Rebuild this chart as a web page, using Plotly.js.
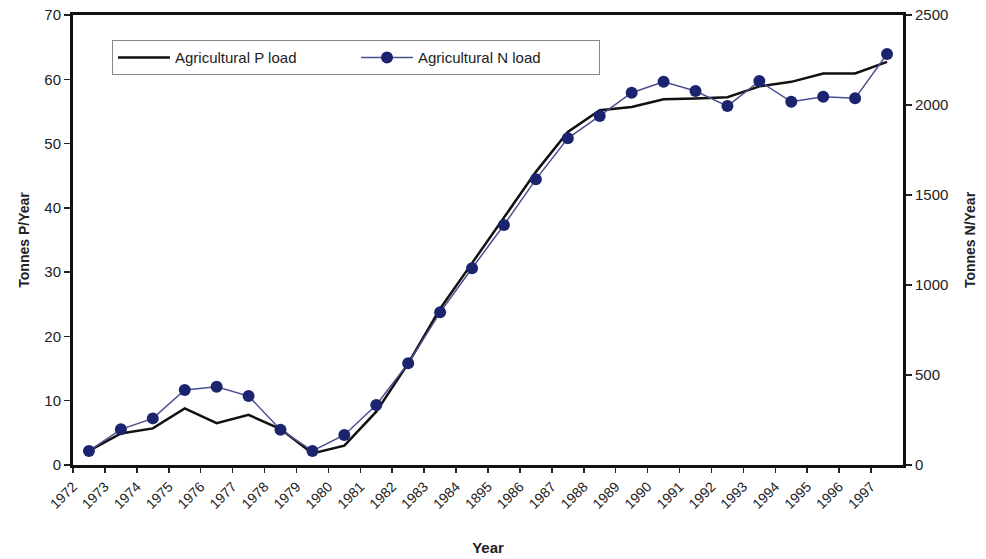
<!DOCTYPE html>
<html>
<head>
<meta charset="utf-8">
<script src="https://cdn.plot.ly/plotly-3.0.1.min.js"></script>
<style>html,body{margin:0;padding:0;background:#fff;}#chart{width:986px;height:559px;}</style>
</head>
<body>
<div id="chart"></div>
<script>
const years = [1972,1973,1974,1975,1976,1977,1978,1979,1980,1981,1982,1983,1984,1985,1986,1987,1988,1989,1990,1991,1992,1993,1994,1995,1996,1997];
const tickLabels = ["1972","1973","1974","1975","1976","1977","1978","1979","1980","1981","1982","1983","1984","1895","1986","1987","1988","1989","1990","1991","1992","1993","1994","1995","1996","1997"];
const pLoad = [2.2,4.9,5.7,8.8,6.5,7.8,5.6,1.8,3.0,8.3,15.8,24.3,31.4,38.4,45.6,51.8,55.2,55.7,56.9,57.0,57.2,58.9,59.6,60.9,60.9,62.7];
const nLoad = [78,198,259,417,435,383,196,78,167,333,565,848,1093,1333,1587,1815,1939,2068,2129,2078,1994,2133,2018,2046,2037,2283];

const font = {family: 'Liberation Sans, Arial, sans-serif', color: '#222'};

const traces = [
  {x: years, y: pLoad, name: 'Agricultural P load', type: 'scatter', mode: 'lines',
   line: {color: '#111', width: 2.5}, yaxis: 'y'},
  {x: years, y: nLoad, name: 'Agricultural N load', type: 'scatter', mode: 'lines+markers',
   line: {color: '#4a4f90', width: 1.5}, marker: {color: '#1c2470', size: 12}, yaxis: 'y2'}
];

const layout = {
  width: 986, height: 559,
  margin: {l: 73, r: 83, t: 15, b: 94},
  paper_bgcolor: '#fff', plot_bgcolor: '#fff',
  font: Object.assign({size: 13}, font),
  showlegend: true,
  legend: {orientation: 'h', x: 0.047, y: 0.944, xanchor: 'left', yanchor: 'top',
    bordercolor: '#888', borderwidth: 1, bgcolor: '#fff',
    font: Object.assign({size: 15}, font), itemwidth: 52, entrywidth: 176},
  xaxis: {
    range: [1971.5, 1997.5],
    tickvals: years.map(y => y - 0.5), ticktext: tickLabels,
    tickangle: -45, tickfont: Object.assign({size: 14}, font),
    ticks: 'outside', ticklen: 5, tickwidth: 1.5, tickcolor: '#222',
    showline: true, linewidth: 3, linecolor: '#111', mirror: true,
    showgrid: false, zeroline: false,
    title: {text: '<b>Year</b>', font: Object.assign({size: 15}, font), standoff: 32}
  },
  yaxis: {
    range: [0, 70], dtick: 10,
    ticks: 'outside', ticklen: 6, tickwidth: 1.5, tickcolor: '#222',
    tickfont: Object.assign({size: 15}, font),
    showline: true, linewidth: 3, linecolor: '#111',
    showgrid: false, zeroline: false,
    title: {text: '<b>Tonnes P/Year</b>', font: Object.assign({size: 14}, font), standoff: 12}
  },
  yaxis2: {
    range: [0, 2500], dtick: 500, overlaying: 'y', side: 'right',
    ticks: 'outside', ticklen: 6, tickwidth: 1.5, tickcolor: '#222',
    tickfont: Object.assign({size: 15}, font),
    showline: true, linewidth: 3, linecolor: '#111',
    showgrid: false, zeroline: false,
    title: {text: '<b>Tonnes N/Year</b>', font: Object.assign({size: 14}, font), standoff: 18}
  }
};

Plotly.newPlot('chart', traces, layout, {displayModeBar: false, staticPlot: true});
</script>
</body>
</html>
